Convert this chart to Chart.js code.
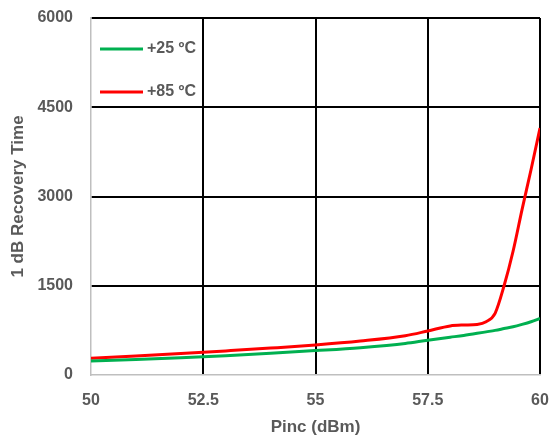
<!DOCTYPE html>
<html><head><meta charset="utf-8">
<script src="https://cdn.jsdelivr.net/npm/chart.js@4"></script>
<style>html,body{margin:0;padding:0;background:#fff}#wrap{width:551px;height:442px}</style>
</head><body><div id="wrap"><canvas id="c" width="551" height="442"></canvas></div>
<script>
const pinc = [50,51,52,53,54,55,56,57,57.5,58,58.3,58.6,58.8,59,59.2,59.4,59.6,59.8,60];
const t25 = [235,262,290,325,365,410,460,530,585,635,665,700,725,750,780,810,850,895,950];
const t85 = [280,318,360,405,452,504,570,660,740,825,840,850,895,1037,1500,2080,2780,3450,4150];
const seriesLabels = ["+25 ºC","+85 ºC"];
const yTicks = [0,1500,3000,4500,6000];
const xTicks = [50,52.5,55,57.5,60];
const xTitle = "Pinc (dBm)";
const yTitle = "1 dB Recovery Time";

const FONT = "'Liberation Sans', Arial, sans-serif";
const GRAY = '#595959';

const legendPlugin = {
  id: 'inLegend',
  afterDraw(chart) {
    const ctx = chart.ctx;
    const items = [{c:'#00b050', t:seriesLabels[0], y:49},{c:'#ff0000', t:seriesLabels[1], y:92}];
    ctx.save();
    items.forEach(it => {
      ctx.strokeStyle = it.c; ctx.lineWidth = 3;
      ctx.beginPath(); ctx.moveTo(100, it.y); ctx.lineTo(143, it.y); ctx.stroke();
      ctx.fillStyle = GRAY; ctx.font = "bold 16px " + FONT;
      ctx.textBaseline = 'middle'; ctx.textAlign = 'left';
      ctx.fillText(it.t, 147, it.y);
    });
    ctx.restore();
  }
};

new Chart(document.getElementById('c'), {
  type: 'line',
  data: {
    datasets: [
      { label: seriesLabels[0], data: pinc.map((x,i)=>({x, y:t25[i]})), borderColor:'#00b050', borderWidth:3, pointRadius:0, cubicInterpolationMode:'monotone', fill:false },
      { label: seriesLabels[1], data: pinc.map((x,i)=>({x, y:t85[i]})), borderColor:'#ff0000', borderWidth:3, pointRadius:0, cubicInterpolationMode:'monotone', fill:false }
    ]
  },
  options: {
    responsive:false, animation:false,
    layout:{ padding:{ top:18, right:11, left:0, bottom:0 } },
    plugins:{ legend:{display:false}, tooltip:{enabled:false} },
    scales:{
      x:{ type:'linear', min:50, max:60,
        afterBuildTicks(s){ s.ticks = xTicks.map(v=>({value:v})); },
        afterFit(s){ s.height = 67; s.paddingLeft = 0; s.paddingRight = 0; },
        grid:{ drawTicks:false, lineWidth:2, color: c => (c.tick && c.tick.value===50) ? 'rgba(0,0,0,0)' : '#000' },
        border:{ color:'#bfbfbf', width:1.5 },
        ticks:{ padding:16, color:GRAY, font:{family:FONT, size:16, weight:'bold'}, maxRotation:0, callback:v=>String(v) },
        title:{ display:true, text:xTitle, color:GRAY, font:{family:FONT, size:17, weight:'bold'}, padding:{top:2} }
      },
      y:{ min:0, max:6000,
        afterBuildTicks(s){ s.ticks = yTicks.map(v=>({value:v})); },
        afterFit(s){ s.width = 91; s.paddingTop = 0; s.paddingBottom = 0; },
        grid:{ drawTicks:false, lineWidth:2, color: c => (c.tick && c.tick.value===0) ? 'rgba(0,0,0,0)' : '#000' },
        border:{ color:'#bfbfbf', width:1.5 },
        ticks:{ padding:18, color:GRAY, font:{family:FONT, size:16, weight:'bold'}, callback:v=>String(v) },
        title:{ display:true, text:yTitle, color:GRAY, font:{family:FONT, size:17, weight:'bold'}, padding:{top:8, bottom:4} }
      }
    }
  },
  plugins:[legendPlugin]
});
</script></body></html>
